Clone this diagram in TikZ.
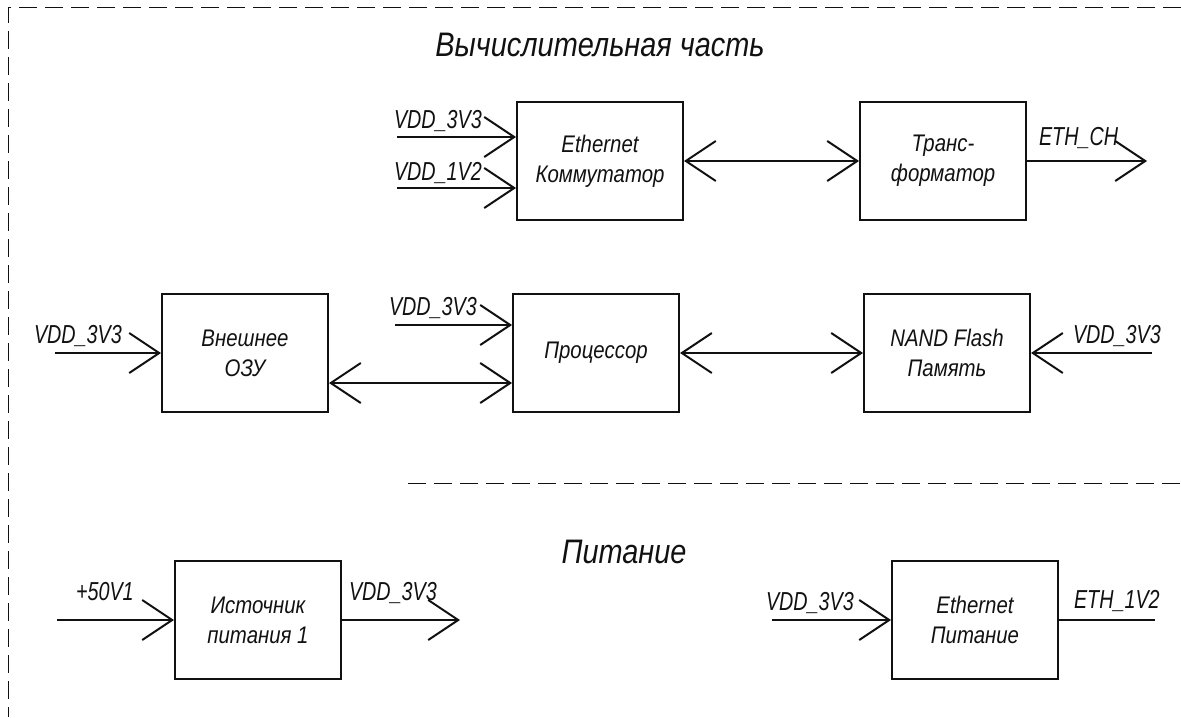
\documentclass[tikz,border=0pt]{standalone}
\usepackage{fontspec}
\setmainfont{Liberation Sans}[FakeStretch=0.85]
\newfontfamily\sigfont{Liberation Sans}[FakeStretch=0.76]
\usepackage{xcolor}
\usepackage{tikz}
\usetikzlibrary{positioning, calc, arrows.meta}
\definecolor{inkK}{HTML}{111111}

\begin{document}
\begin{tikzpicture}[x=0.5pt, y=-0.5pt, line width=1pt, draw=inkK, text=inkK,
    blk/.style={draw, line width=1pt, minimum width=83pt, minimum height=59pt,
                align=center, font=\fontsize{12}{15}\selectfont\itshape},
    sig/.style={font=\sigfont\fontsize{13}{15}\selectfont\itshape, anchor=base west, inner sep=0pt},
    hdr/.style={font=\fontsize{17}{20}\selectfont\itshape},
    pin/.style={-{Straight Barb[length=15pt, width=20pt]}},
    bus/.style={{Straight Barb[length=15pt, width=20pt]}-{Straight Barb[length=15pt, width=20pt]}},
    frame/.style={line width=0.5pt, dash pattern=on 9pt off 4pt}]
  \useasboundingbox (0,0) rectangle (1181,717);
  % frame and separator
  \draw[frame] (1181,8) -- (8,8) -- (8,717);
  \draw[frame] (408,483) -- (1181,483);
  % section headers
  \node[hdr] (hdCalc) at (600,45) {Вычислительная часть};
  \node[hdr] (hdPwr) at (624,552) {Питание};
  % blocks: name, x, y, text
  \foreach \nm/\x/\y/\txt in {%
    sw/600/161/{Ethernet\\Коммутатор},%
    tr/943/161/{Транс-\\форматор},%
    ram/245/353/{Внешнее\\ОЗУ},%
    cpu/596/353/{Процессор},%
    nand/947/353/{NAND Flash\\Память},%
    psu/258/620/{Источник\\питания 1},%
    ethp/975/620/{Ethernet\\Питание}}{%
      \node[blk] (\nm) at (\x,\y) {\txt};
  }
  % free ends of the supply lines
  \coordinate (swA) at (397,137);
  \coordinate (swB) at (397,188);
  \coordinate (ethOut) at (1147,161);
  \coordinate (ramIn) at (55,353);
  \coordinate (cpuIn) at (395,325);
  \coordinate (nandIn) at (1152,353);
  \coordinate (psuIn) at (57,620);
  \coordinate (psuOut) at (460,620);
  \coordinate (ethpIn) at (772,620);
  \coordinate (ethpOut) at (1155,620);
  % connectors
  \draw[pin] (swA) -- (swA -| sw.west);
  \draw[pin] (swB) -- (swB -| sw.west);
  \draw[bus] (sw.east) -- (tr.west);
  \draw[pin] (tr.east) -- (ethOut);
  \draw[pin] (ramIn) -- (ram.west);
  \draw[pin] (cpuIn) -- (cpuIn -| cpu.west);
  \draw[bus] ($(ram.east)+(0,30)$) -- ($(cpu.west)+(0,30)$);
  \draw[bus] (cpu.east) -- (nand.west);
  \draw[pin] (nandIn) -- (nand.east);
  \draw[pin] (psuIn) -- (psu.west);
  \draw[pin] (psu.east) -- (psuOut);
  \draw[pin] (ethpIn) -- (ethp.west);
  \draw (ethp.east) -- (ethpOut);
  % signal labels: name, x, y(baseline), text
  \foreach \nm/\x/\y/\txt in {%
    lbA/393/128/{VDD\_3V3},%
    lbB/393/180/{VDD\_1V2},%
    lbC/1038/145/{ETH\_CH},%
    lbD/33/343/{VDD\_3V3},%
    lbE/388/315/{VDD\_3V3},%
    lbF/1072/343/{VDD\_3V3},%
    lbG/75/600/{+50V1},%
    lbH/348/600/{VDD\_3V3},%
    lbI/765/610/{VDD\_3V3},%
    lbJ/1073/608/{ETH\_1V2}}{%
      \node[sig] (\nm) at (\x,\y) {\txt};
  }
\end{tikzpicture}
\end{document}
